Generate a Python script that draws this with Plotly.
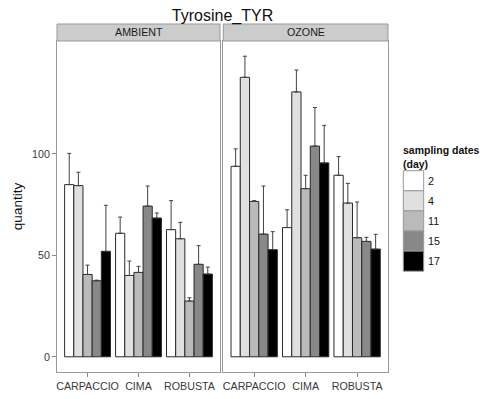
import plotly.graph_objects as go

# ---- data ----
treatments = ["AMBIENT", "OZONE"]
varieties = ["CARPACCIO", "CIMA", "ROBUSTA"]
days = ["2", "4", "11", "15", "17"]
day_colors = ["#FFFFFF", "#E0E0E0", "#BABABA", "#888888", "#000000"]

# mean quantity per day (rows) for each variety (columns)
ambient_mean = [
    [84.9, 60.9, 62.7],
    [84.4, 40.1, 58.2],
    [40.6, 41.6, 27.5],
    [37.5, 74.3, 45.6],
    [52.0, 68.4, 40.8],
]
ambient_upper = [
    [100.3, 68.9, 77.0],
    [91.0, 47.2, 66.3],
    [45.2, 44.6, 29.1],
    [37.8, 84.2, 54.8],
    [74.7, 70.9, 44.2],
]
ozone_mean = [
    [93.9, 63.7, 89.5],
    [137.8, 130.6, 75.8],
    [76.6, 82.9, 58.7],
    [60.5, 103.9, 56.9],
    [52.8, 95.6, 53.1],
]
ozone_upper = [
    [102.5, 72.5, 98.7],
    [148.2, 141.4, 85.5],
    [77.0, 89.5, 76.3],
    [84.2, 122.9, 58.9],
    [61.7, 114.1, 60.4],
]

y_ticks = [0, 50, 100]

# ---- figure ----
W, H = 489, 399
ML, MR, MT, MB = 57, 101, 24, 27
PW, PH = W - ML - MR, H - MT - MB
strip_h = 17
ytop = 1 - strip_h / PH

FONT = "Liberation Sans, Arial, sans-serif"
TXT = "#3a3a3a"

fig = go.Figure()
panels = [(ambient_mean, ambient_upper, "x", "y"), (ozone_mean, ozone_upper, "x2", "y2")]
for means, uppers, xa, ya in panels:
    for i, d in enumerate(days):
        fig.add_trace(go.Bar(
            x=varieties, y=means[i], name=d,
            xaxis=xa, yaxis=ya,
            marker=dict(color=day_colors[i], line=dict(color="#2a2a2a", width=1)),
            error_y=dict(type="data", symmetric=False,
                         array=[u - m for u, m in zip(uppers[i], means[i])],
                         arrayminus=[0] * len(varieties),
                         color="#404040", thickness=1, width=2),
            showlegend=False, legendgroup=d,
        ))

def px_x(p):
    return (p - ML) / PW

def px_y(p):
    return (H - MB - p) / PH

dom1 = [0, 163 / PW]
dom2 = [(223.3 - ML) / PW, 1]

axis_common = dict(
    showgrid=False, zeroline=False, showline=True, mirror=True,
    linecolor="#999999", linewidth=1, ticklen=4, automargin=False,
    tickcolor="#888888", tickfont=dict(family=FONT, size=10.7, color=TXT),
)
yr = [-7.5, 155.7]
fig.update_layout(
    width=W, height=H,
    margin=dict(l=ML, r=MR, t=MT, b=MB, autoexpand=False),
    paper_bgcolor="white", plot_bgcolor="white",
    barmode="group", bargap=0.1, bargroupgap=0,
    font=dict(family=FONT, color=TXT),
    xaxis=dict(domain=dom1, anchor="y", type="category", range=[-0.6, 2.6],
               ticks="outside", **axis_common),
    xaxis2=dict(domain=dom2, anchor="y2", type="category", range=[-0.6, 2.6],
                ticks="outside", **axis_common),
    yaxis=dict(domain=[0, ytop], anchor="x", range=yr, tickvals=y_ticks,
               ticks="outside",
               title=dict(text="quantity", standoff=6,
                          font=dict(family=FONT, size=13.5, color="#111111")),
               **axis_common),
    yaxis2=dict(domain=[0, ytop], anchor="x2", range=yr, tickvals=y_ticks,
                showticklabels=False, ticks="", **axis_common),
    title=dict(text="Tyrosine_TYR", x=222.5 / W, xanchor="center",
               y=1 - 15 / H, yanchor="middle",
               font=dict(family=FONT, size=16, color="#111111")),
)

shapes = []
annotations = []
# facet strips
for dom, lab in zip([dom1, dom2], treatments):
    shapes.append(dict(type="rect", xref="paper", yref="paper",
                       x0=dom[0], x1=dom[1], y0=ytop, y1=1,
                       fillcolor="#CCCCCC", line=dict(color="#999999", width=1)))
    annotations.append(dict(text=lab, xref="paper", yref="paper",
                            x=(dom[0] + dom[1]) / 2, y=(ytop + 1) / 2,
                            showarrow=False, xanchor="center", yanchor="middle",
                            font=dict(family=FONT, size=10.7, color="#1a1a1a")))

# legend (drawn manually)
kx0, kx1 = 403.3, 423.7
ky0, kstep = 170.7, 20.1
annotations.append(dict(text="<b>sampling dates</b><br><b>(day)</b>", xref="paper", yref="paper",
                        x=px_x(401), y=px_y(142), xanchor="left", yanchor="top",
                        align="left", showarrow=False,
                        font=dict(family=FONT, size=10.5, color="#111111")))
for i, d in enumerate(days):
    t = ky0 + i * kstep
    shapes.append(dict(type="rect", xref="paper", yref="paper",
                       x0=px_x(kx0), x1=px_x(kx1), y0=px_y(t + kstep), y1=px_y(t),
                       fillcolor=day_colors[i], line=dict(color="#999999", width=1)))
    annotations.append(dict(text=d, xref="paper", yref="paper",
                            x=px_x(426), y=px_y(t + kstep / 2),
                            xanchor="left", yanchor="middle", showarrow=False,
                            font=dict(family=FONT, size=10.7, color="#111111")))

fig.update_layout(shapes=shapes, annotations=annotations)
fig.write_html("out.html", config={"displayModeBar": False},
               post_script="document.body.style.margin='0';")
